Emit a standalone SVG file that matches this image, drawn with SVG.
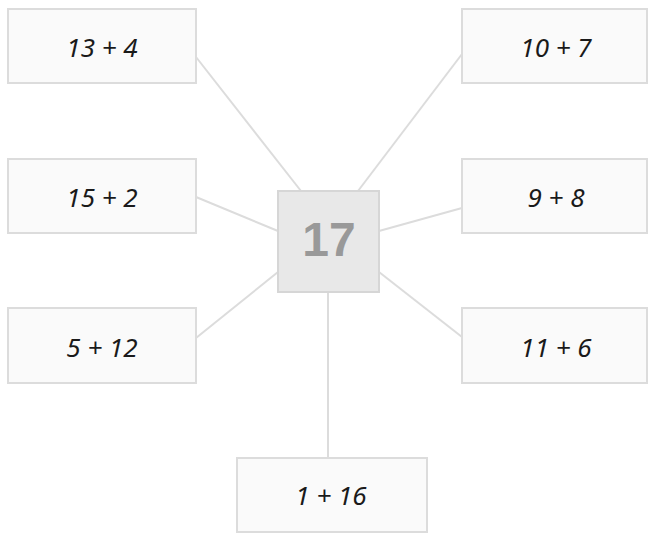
<svg xmlns="http://www.w3.org/2000/svg" width="648" height="533" viewBox="0 0 648 533">
<style>
.box{fill:#fafafa;stroke:#dcdcdc;stroke-width:2}
.ctr{fill:#e8e8e8;stroke:#d6d6d6;stroke-width:2}
.lbl{font-family:"Noto Sans","DejaVu Sans",sans-serif;font-style:italic;font-size:26px;fill:#1a1a1a;text-anchor:middle}
.big{font-family:"Liberation Sans","Arial",sans-serif;font-weight:bold;font-size:48px;fill:#999;text-anchor:middle}
.con line{stroke:#dcdcdc;stroke-width:2}
</style>
<rect width="648" height="533" fill="#fff"/>
<g class="con" id="connectors">
<line x1="196" y1="57" x2="301" y2="191"/>
<line x1="462" y1="54" x2="358" y2="191"/>
<line x1="196" y1="197" x2="278" y2="231"/>
<line x1="462" y1="208" x2="379" y2="231"/>
<line x1="196" y1="338" x2="278" y2="272"/>
<line x1="462" y1="337" x2="379" y2="272"/>
<line x1="328" y1="292" x2="328" y2="458"/>
</g>
<g id="n13p4"><rect class="box" x="8" y="9" width="188" height="74"/><text class="lbl" x="102" y="57">13 + 4</text></g>
<g id="n10p7"><rect class="box" x="462" y="9" width="185" height="74"/><text class="lbl" x="556" y="57">10 + 7</text></g>
<g id="n15p2"><rect class="box" x="8" y="159" width="188" height="74"/><text class="lbl" x="102" y="207">15 + 2</text></g>
<g id="n9p8"><rect class="box" x="462" y="159" width="185" height="74"/><text class="lbl" x="556" y="207">9 + 8</text></g>
<g id="n5p12"><rect class="box" x="8" y="308" width="188" height="75"/><text class="lbl" x="102" y="357">5 + 12</text></g>
<g id="n11p6"><rect class="box" x="462" y="308" width="185" height="75"/><text class="lbl" x="556" y="357">11 + 6</text></g>
<g id="n1p16"><rect class="box" x="237" y="458" width="190" height="74"/><text class="lbl" x="331" y="505">1 + 16</text></g>
<g id="center"><rect class="ctr" x="278" y="191" width="101" height="101"/><text class="big" x="329" y="256">17</text></g>
</svg>
